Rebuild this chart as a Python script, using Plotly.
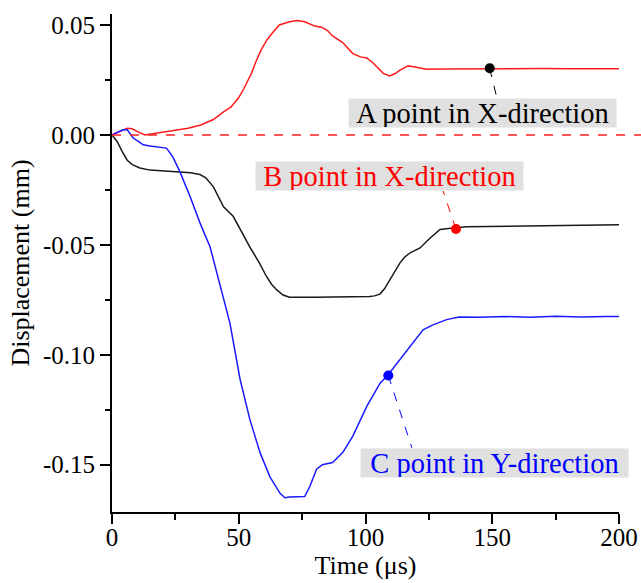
import plotly.graph_objects as go

# ---- data ----
t_a = [0, 2, 4, 6, 8, 10, 13, 16, 20, 25, 30, 35, 40, 44, 47, 50, 52, 55, 57, 59, 61, 63, 66, 70, 73, 76, 78,
       80, 82.7, 85, 87, 89, 91, 93, 95, 98, 100.5, 103, 105, 107, 109.6, 111.5, 113.6, 116.8, 119, 121.5, 124,
       130, 140, 150, 160, 170, 180, 190, 200]
y_a = [0, 0.001, 0.002, 0.003, 0.0028, 0.0015, 0.0, 0.0005, 0.0012, 0.002, 0.003, 0.0045, 0.007, 0.0105, 0.0127,
       0.017, 0.021, 0.028, 0.034, 0.039, 0.043, 0.046, 0.05, 0.0515, 0.052, 0.0515, 0.0505, 0.0495, 0.049, 0.0475,
       0.045, 0.0435, 0.042, 0.0395, 0.037, 0.0355, 0.035, 0.0327, 0.0305, 0.028, 0.0268, 0.0278, 0.0295, 0.0314,
       0.031, 0.0305, 0.0299, 0.0300, 0.0301, 0.0302, 0.0301, 0.0302, 0.0301, 0.0302, 0.0301]

t_b = [0, 2, 4, 6, 8, 11, 15, 20, 26.8, 31, 34.7, 37, 40, 42, 44, 47.8, 51, 54.4, 58, 61, 63, 65, 67.5, 70, 80,
       90, 100, 101.7, 103.5, 105.7, 107.5, 109.6, 111.5, 113.6, 115.5, 117.6, 121.5, 125.4, 129.4, 132, 134.5,
       140, 150, 160, 170, 180, 190, 200]
y_b = [0, -0.003, -0.0075, -0.0115, -0.0135, -0.0150, -0.016, -0.0163, -0.0168, -0.0172, -0.018, -0.0195,
       -0.0236, -0.028, -0.0327, -0.037, -0.044, -0.051, -0.058, -0.0645, -0.068, -0.0705, -0.0728, -0.0738,
       -0.0738, -0.0738, -0.0737, -0.0735, -0.0732, -0.0724, -0.070, -0.066, -0.062, -0.0582, -0.0555, -0.0536,
       -0.0514, -0.047, -0.043, -0.0425, -0.0423, -0.0418, -0.0416, -0.0414, -0.0412, -0.0410, -0.0409, -0.0408]

t_c = [0, 2, 4.4, 6, 8.4, 10.5, 12.3, 15, 19, 21.5, 24, 26.8, 30.8, 34.7, 38.7, 42, 44, 46.5, 50.5, 54.4, 58.4,
       62.3, 66.3, 68.2, 70, 73, 76, 78, 80.7, 83, 87, 91, 95, 100.5, 105.7, 109, 113.6, 117.6, 122.7, 126.6, 132,
       137, 145, 155, 165, 175, 185, 195, 200]
y_c = [0, 0.001, 0.0023, 0.0023, -0.0014, -0.003, -0.0045, -0.005, -0.0055, -0.006, -0.01, -0.0168, -0.028,
       -0.040, -0.051, -0.066, -0.075, -0.0855, -0.111, -0.1295, -0.1445, -0.1555, -0.163, -0.165, -0.1647,
       -0.1645, -0.1645, -0.160, -0.152, -0.150, -0.149, -0.1445, -0.137, -0.1235, -0.113, -0.109, -0.102,
       -0.0963, -0.0886, -0.0864, -0.084, -0.0828, -0.0829, -0.0826, -0.0829, -0.0825, -0.0828, -0.0826, -0.0826]

labels = ["A point in X-direction", "B point in X-direction", "C point in Y-direction"]
label_colors = ["black", "red", "blue"]
label_x = [146.2, 109.3, 150.7]
label_y = [0.0100, -0.0189, -0.1490]
dot_x = [149, 135.7, 109]
dot_y = [0.0303, -0.0428, -0.1094]
leader_end_x = [151.9, 130.6, 118.3]
leader_end_y = [0.0164, -0.0255, -0.1423]

x_ticks = [0, 50, 100, 150, 200]
x_ticklabels = ["0", "50", "100", "150", "200"]
y_ticks = [0.05, 0.0, -0.05, -0.10, -0.15]
y_ticklabels = ["0.05", "0.00", "-0.05", "-0.10", "-0.15"]

x_range = [0, 200]
y_range = [-0.1715, 0.055]

FONT = "Liberation Serif, Times New Roman, serif"

fig = go.Figure()
fig.add_trace(go.Scatter(x=t_a, y=y_a, mode="lines", line=dict(color="#ff1a1a", width=1.5), showlegend=False))
fig.add_trace(go.Scatter(x=t_b, y=y_b, mode="lines", line=dict(color="#1a1a1a", width=1.5), showlegend=False))
fig.add_trace(go.Scatter(x=t_c, y=y_c, mode="lines", line=dict(color="#1a1aff", width=1.5), showlegend=False))

# zero reference dashed line (extends to the right edge of the picture)
zero_frac = (0 - y_range[0]) / (y_range[1] - y_range[0])
fig.add_shape(type="line", xref="paper", yref="paper", x0=0, x1=1.05, y0=zero_frac, y1=zero_frac,
              line=dict(color="#ff2020", width=1.5, dash="dash"))

for i in range(3):
    fig.add_trace(go.Scatter(x=[dot_x[i], leader_end_x[i]], y=[dot_y[i], leader_end_y[i]], mode="lines",
                             line=dict(color=label_colors[i], width=1, dash="dash"), showlegend=False))
    fig.add_trace(go.Scatter(x=[dot_x[i]], y=[dot_y[i]], mode="markers",
                             marker=dict(color=label_colors[i], size=10), showlegend=False))
    fig.add_annotation(x=label_x[i], y=label_y[i], xref="x", yref="y", text=labels[i], showarrow=False,
                       font=dict(family=FONT, size=28.5, color=label_colors[i]), bgcolor="#e0e0e0",
                       width=267, height=28, borderpad=0)

fig.update_xaxes(range=x_range, tickmode="array", tickvals=x_ticks, ticktext=x_ticklabels,
                 ticks="outside", ticklen=10, tickwidth=2, tickcolor="black",
                 minor=dict(tickmode="linear", tick0=0, dtick=25, ticks="outside", ticklen=6, tickwidth=2,
                            tickcolor="black"),
                 showline=True, linecolor="black", linewidth=2, showgrid=False, zeroline=False,
                 automargin=False, ticklabelstandoff=-8,
                 tickfont=dict(family=FONT, size=25, color="black"),
                 title=dict(text="Time (μs)", font=dict(family=FONT, size=26, color="black"), standoff=0))
fig.update_yaxes(range=y_range, tickmode="array", tickvals=y_ticks, ticktext=y_ticklabels,
                 ticks="outside", ticklen=10, tickwidth=2, tickcolor="black",
                 minor=dict(tickmode="linear", tick0=0, dtick=0.025, ticks="outside", ticklen=5, tickwidth=2,
                            tickcolor="black"),
                 showline=True, linecolor="black", linewidth=2, showgrid=False, zeroline=False,
                 automargin=False,
                 tickfont=dict(family=FONT, size=25, color="black"),
                 title=dict(text="Displacement (mm)", font=dict(family=FONT, size=26, color="black"), standoff=6))

fig.update_layout(width=641, height=583, margin=dict(l=112, r=22, t=14, b=71),
                  plot_bgcolor="white", paper_bgcolor="white")

fig.write_html("out.html")
